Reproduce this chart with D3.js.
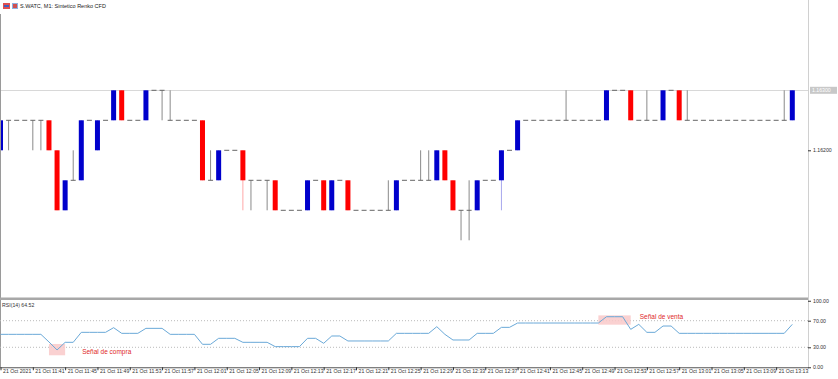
<!DOCTYPE html>
<html>
<head>
<meta charset="utf-8">
<script src="https://cdn.jsdelivr.net/npm/d3@7/dist/d3.min.js"></script>
<style>
html,body{margin:0;padding:0;background:#fff;}
svg{display:block;}
text{font-family:"Liberation Sans","DejaVu Sans",sans-serif;}
</style>
</head>
<body>
<svg id="c" width="838" height="379"></svg>
<script>
// ---------- DATA ----------
const title = "S.WATC, M1: Sintetico Renko CFD";
const rsiTitle = "RSI(14) 64.52";
// candle OHLC (price)
const opens  = [1.1620,1.1625,1.1625,1.1625,1.1625,1.1625,1.1625,1.1620,1.1610,1.1615,1.1615,1.1625,1.1620,1.1625,1.1625,1.1630,1.1625,1.1625,1.1625,1.1630,1.1630,1.1625,1.1625,1.1625,1.1625,1.1625,1.1615,1.1615,1.1620,1.1620,1.1620,1.1615,1.1615,1.1615,1.1615,1.1610,1.1610,1.1610,1.1610,1.1615,1.1615,1.1610,1.1615,1.1615,1.1610,1.1610,1.1610,1.1610,1.1610,1.1610,1.1615,1.1615,1.1615,1.1615,1.1615,1.1620,1.1615,1.1610,1.1610,1.1610,1.1615,1.1615,1.1615,1.1620,1.1620,1.1625,1.1625,1.1625,1.1625,1.1625,1.1625,1.1625,1.1625,1.1625,1.1625,1.1625,1.1630,1.1630,1.1630,1.1625,1.1625,1.1625,1.1625,1.1630,1.1630,1.1625,1.1625,1.1625,1.1625,1.1625,1.1625,1.1625,1.1625,1.1625,1.1625,1.1625,1.1625,1.1625,1.1625];
const closes = [1.1625,1.1625,1.1625,1.1625,1.1625,1.1625,1.1620,1.1610,1.1615,1.1615,1.1625,1.1625,1.1625,1.1625,1.1630,1.1625,1.1625,1.1625,1.1630,1.1630,1.1630,1.1625,1.1625,1.1625,1.1625,1.1615,1.1615,1.1620,1.1620,1.1620,1.1615,1.1615,1.1615,1.1615,1.1610,1.1610,1.1610,1.1610,1.1615,1.1615,1.1610,1.1615,1.1615,1.1610,1.1610,1.1610,1.1610,1.1610,1.1610,1.1615,1.1615,1.1615,1.1615,1.1615,1.1620,1.1615,1.1610,1.1610,1.1610,1.1615,1.1615,1.1615,1.1620,1.1620,1.1625,1.1625,1.1625,1.1625,1.1625,1.1625,1.1625,1.1625,1.1625,1.1625,1.1625,1.1630,1.1630,1.1630,1.1625,1.1625,1.1625,1.1625,1.1630,1.1630,1.1625,1.1625,1.1625,1.1625,1.1625,1.1625,1.1625,1.1625,1.1625,1.1625,1.1625,1.1625,1.1625,1.1625,1.1630];
const highs  = [1.1625,1.1625,1.1625,1.1625,1.1625,1.1625,1.1625,1.1620,1.1615,1.1620,1.1625,1.1625,1.1625,1.1625,1.1630,1.1630,1.1625,1.1625,1.1630,1.1630,1.1630,1.1630,1.1625,1.1625,1.1625,1.1625,1.1620,1.1620,1.1620,1.1620,1.1620,1.1615,1.1615,1.1615,1.1615,1.1610,1.1610,1.1610,1.1615,1.1615,1.1615,1.1615,1.1615,1.1615,1.1610,1.1610,1.1610,1.1610,1.1615,1.1615,1.1615,1.1615,1.1620,1.1620,1.1620,1.1620,1.1615,1.1610,1.1615,1.1615,1.1615,1.1615,1.1620,1.1620,1.1625,1.1625,1.1625,1.1625,1.1625,1.1625,1.1630,1.1625,1.1625,1.1625,1.1625,1.1630,1.1630,1.1630,1.1630,1.1625,1.1630,1.1625,1.1630,1.1630,1.1630,1.1630,1.1625,1.1625,1.1625,1.1625,1.1625,1.1625,1.1625,1.1625,1.1625,1.1625,1.1625,1.1630,1.1630];
const lows   = [1.1620,1.1620,1.1625,1.1625,1.1620,1.1620,1.1620,1.1610,1.1610,1.1615,1.1615,1.1625,1.1620,1.1625,1.1625,1.1625,1.1625,1.1625,1.1625,1.1630,1.1625,1.1625,1.1625,1.1625,1.1625,1.1615,1.1615,1.1615,1.1620,1.1620,1.1610,1.1610,1.1615,1.1610,1.1610,1.1610,1.1610,1.1610,1.1610,1.1615,1.1610,1.1610,1.1615,1.1610,1.1610,1.1610,1.1610,1.1610,1.1610,1.1610,1.1615,1.1615,1.1615,1.1615,1.1615,1.1615,1.1610,1.1605,1.1605,1.1610,1.1615,1.1615,1.1610,1.1620,1.1620,1.1625,1.1625,1.1625,1.1625,1.1625,1.1625,1.1625,1.1625,1.1625,1.1625,1.1625,1.1630,1.1630,1.1625,1.1625,1.1625,1.1625,1.1625,1.1630,1.1625,1.1625,1.1625,1.1625,1.1625,1.1625,1.1625,1.1625,1.1625,1.1625,1.1625,1.1625,1.1625,1.1625,1.1625];
// RSI(14) values per candle
const rsi = [49.5,49.5,49.5,49.5,49.5,49.5,38,26,37.5,37.5,52.5,52.5,52.5,52.5,59.5,51,51,51,58.5,58.5,58.5,49.5,49.5,49.5,49.5,34.5,34.5,43.5,43.5,43.5,37.5,37.5,37.5,37.5,31,31,31,31,43.5,43.5,36,47,47,39.5,39.5,39.5,39.5,39.5,39.5,51,51,51,51,51,61,49.5,41,41,41,51,51,51,60,60,66.5,66.5,66.5,66.5,66.5,66.5,66.5,66.5,66.5,66.5,66.5,76,76,76,57,64.5,52.5,52.5,62,62,51,51,51,51,51,51,51,51,51,51,51,51,51,51,64.5];
// time axis
const tickIndex = [0,4,8,12,16,20,24,28,32,36,40,44,48,52,56,60,64,68,72,76,80,84,88,92,96];
const tickLabels = ["21 Oct 2021","21 Oct 11:41","21 Oct 11:45","21 Oct 11:49","21 Oct 11:53","21 Oct 11:57","21 Oct 12:01","21 Oct 12:05","21 Oct 12:09","21 Oct 12:13","21 Oct 12:17","21 Oct 12:21","21 Oct 12:25","21 Oct 12:29","21 Oct 12:33","21 Oct 12:37","21 Oct 12:41","21 Oct 12:45","21 Oct 12:49","21 Oct 12:53","21 Oct 12:57","21 Oct 13:01","21 Oct 13:05","21 Oct 13:09","21 Oct 13:13"];
const priceTicks = [1.1620];
const lastPrice = 1.1630;
const rsiTicks = [100,70,30,0];
const rsiLevels = [70,30];
// signals: [candle index from, candle index to, rsi low, rsi high, label]
const buySignal = {from:6, to:8, lo:18, hi:35, label:"Señal de compra"};
const sellSignal = {from:74, to:78, lo:64, hi:78, label:"Señal de venta"};

// ---------- LAYOUT ----------
const svg = d3.select("#c");
const W = 838, H = 379;
const plotL = 0, plotR = 808;
const mainTop = 14, mainBot = 297;
const rsiTop = 300.75, rsiBot = 367.25;

const idx = d3.range(closes.length);
const x = d3.scaleLinear().domain([0, 98]).range([0.5, 792.3]);
const y = d3.scaleLinear().domain([1.1610, 1.1630]).range([210.3, 90.3]);
const yr = d3.scaleLinear().domain([0, 100]).range([rsiBot, rsiTop]);

const bw = 5;
const BLUE = "#0000cc", RED = "#ff0000";

// price line (bid)
svg.append("line").attr("x1", plotL).attr("x2", plotR)
  .attr("y1", Math.round(y(lastPrice)) + 0.5).attr("y2", Math.round(y(lastPrice)) + 0.5)
  .attr("stroke", "#d8d8d8").attr("stroke-width", 1);

// candles
const g = svg.append("g");
idx.forEach(i => {
  const o = opens[i], c = closes[i], h = highs[i], l = lows[i];
  const cx = x(i);
  const up = c > o, down = c < o;
  const col = up ? BLUE : down ? RED : "#777";
  if (h > l) {
    g.append("line").attr("x1", cx).attr("x2", cx)
      .attr("y1", y(h)).attr("y2", y(l))
      .attr("stroke", (up || down) ? col : "#8a8a8a").attr("stroke-width", 1)
      .attr("stroke-opacity", (up || down) ? 0.35 : 1);
  }
  if (up || down) {
    g.append("rect").attr("x", cx - bw / 2).attr("width", bw)
      .attr("y", y(Math.max(o, c))).attr("height", Math.abs(y(o) - y(c)))
      .attr("fill", col);
  } else {
    g.append("line").attr("x1", cx - 2.5).attr("x2", cx + 2.5)
      .attr("y1", y(c)).attr("y2", y(c))
      .attr("stroke", "#666").attr("stroke-width", 1);
  }
});

// right border / axis line
svg.append("line").attr("x1", plotR + 0.5).attr("x2", plotR + 0.5)
  .attr("y1", 0).attr("y2", rsiBot).attr("stroke", "#d0d0d0");
// left border
svg.append("line").attr("x1", 0.5).attr("x2", 0.5).attr("y1", 14).attr("y2", rsiBot)
  .attr("stroke", "#9a9a9a");

// price axis
const pa = svg.append("g").attr("transform", `translate(${plotR},0)`)
  .call(d3.axisRight(y).tickValues(priceTicks).tickSize(3).tickFormat(d3.format(".5f")));
pa.select(".domain").remove();
pa.selectAll("text").attr("font-size", 5.2).attr("fill", "#333").attr("x", 5);
pa.selectAll("line").attr("stroke", "#333");
// last price label
const lp = svg.append("g").attr("transform", `translate(${plotR + 2},${y(lastPrice)})`);
lp.append("rect").attr("x", 0).attr("y", -3.5).attr("width", 27).attr("height", 7).attr("fill", "#c8c8c8");
lp.append("text").attr("x", 2).attr("y", 2).attr("font-size", 5.2).attr("fill", "#fff")
  .text(d3.format(".5f")(lastPrice));

// separator between panes
svg.append("rect").attr("x", 0).attr("y", mainBot + 0.5).attr("width", plotR).attr("height", 2.5).attr("fill", "#a8a8a8");

// RSI levels
rsiLevels.forEach(v => {
  svg.append("line").attr("x1", 0).attr("x2", plotR)
    .attr("y1", yr(v)).attr("y2", yr(v))
    .attr("stroke", "#bbb").attr("stroke-dasharray", "1,2");
});

// signal boxes
[buySignal, sellSignal].forEach(s => {
  svg.append("rect").attr("x", x(s.from)).attr("width", x(s.to) - x(s.from))
    .attr("y", yr(s.hi)).attr("height", yr(s.lo) - yr(s.hi))
    .attr("fill", "#f9c9c9").attr("opacity", 0.85);
});

// RSI line
svg.append("path").datum(rsi)
  .attr("d", d3.line().x((d, i) => x(i)).y(d => yr(d)))
  .attr("fill", "none").attr("stroke", "#6aa9d8").attr("stroke-width", 1);

// signal labels
svg.append("text").attr("x", x(buySignal.to) + 17).attr("y", yr(buySignal.lo) - 1)
  .attr("font-size", 6.5).attr("fill", "#e02828").text(buySignal.label);
svg.append("text").attr("x", x(sellSignal.to) + 9).attr("y", yr(sellSignal.hi) + 3.5)
  .attr("font-size", 6.5).attr("fill", "#e02828").text(sellSignal.label);

// RSI axis
const ra = svg.append("g").attr("transform", `translate(${plotR},0)`)
  .call(d3.axisRight(yr).tickValues(rsiTicks).tickSize(3).tickFormat(d3.format(".2f")));
ra.select(".domain").remove();
ra.selectAll("text").attr("font-size", 5.2).attr("fill", "#333").attr("x", 5);
ra.selectAll("line").attr("stroke", "#333");

// RSI title
svg.append("text").attr("x", 2).attr("y", 307).attr("font-size", 5.2).attr("fill", "#333").text(rsiTitle);

// bottom border of rsi pane
svg.append("line").attr("x1", 0).attr("x2", plotR + 1).attr("y1", rsiBot + 0.5).attr("y2", rsiBot + 0.5)
  .attr("stroke", "#555");

// time axis
const ta = svg.append("g").attr("transform", `translate(0,${rsiBot})`)
  .call(d3.axisBottom(x).tickValues(tickIndex).tickSize(3)
    .tickFormat((d, k) => tickLabels[k]));
ta.select(".domain").remove();
ta.selectAll("line").attr("stroke", "#333");
ta.selectAll("text").attr("font-size", 5.2).attr("fill", "#333")
  .attr("text-anchor", "start").attr("dx", 2).attr("y", 2);

// title with icons
svg.append("rect").attr("x", 3).attr("y", 3).attr("width", 7).attr("height", 6).attr("fill", "#e05050");
svg.append("rect").attr("x", 4).attr("y", 5).attr("width", 5).attr("height", 2).attr("fill", "#4060c0");
svg.append("rect").attr("x", 12).attr("y", 3).attr("width", 6).attr("height", 6).attr("fill", "#8fb0e0");
svg.append("rect").attr("x", 13).attr("y", 4).attr("width", 4).attr("height", 4).attr("fill", "#d05050");
svg.append("text").attr("x", 20).attr("y", 8).attr("font-size", 5.5).attr("fill", "#222").text(title);
</script>
</body>
</html>
